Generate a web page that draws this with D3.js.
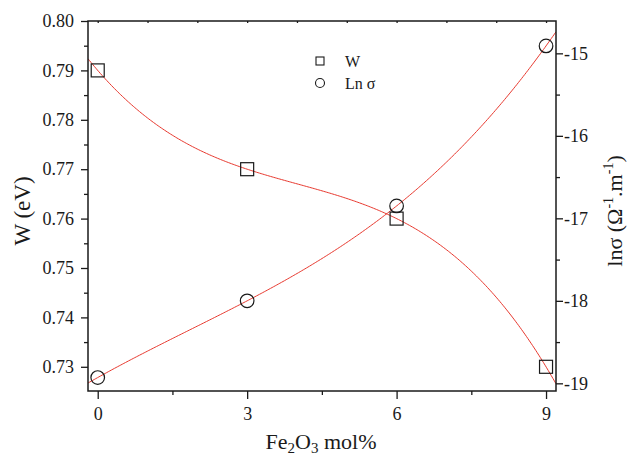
<!DOCTYPE html>
<html>
<head>
<meta charset="utf-8">
<script src="https://cdn.jsdelivr.net/npm/d3@7"></script>
<style>
  html, body { margin: 0; padding: 0; background: #fff; }
  svg, svg text { font-family: 'Liberation Serif', 'Times New Roman', Times, serif !important; }
</style>
</head>
<body>
<svg id="chart" width="627" height="456"></svg>
<script>
// Fe2O3 content (mol%)
const composition = [0, 3, 6, 9];
// Activation energy W (eV)
const activationEnergy = [0.79, 0.77, 0.76, 0.73];
// ln of conductivity, ln σ (Ω^-1.m^-1)
const lnSigma = [-18.93, -18.0, -16.85, -14.91];

// Tick values
const xMajorTicks = [0, 3, 6, 9];
const xMinorTicks = [1.5, 4.5, 7.5];
const xTopTicks = [0, 1, 2, 3, 4, 5, 6, 7, 8, 9];
const wMajorTicks = [0.73, 0.74, 0.75, 0.76, 0.77, 0.78, 0.79, 0.80];
const wMinorTicks = [0.735, 0.745, 0.755, 0.765, 0.775, 0.785, 0.795];
const lnMajorTicks = [-19, -18, -17, -16, -15];
const lnMinorTicks = [-18.5, -17.5, -16.5, -15.5];

const svg = d3.select("#chart");
const m = { left: 88, right: 556, top: 21, bottom: 391 };
const ink = "#1a1a1a";
const fitColor = "#e8392f";
const serif = "'Liberation Serif', 'Times New Roman', Times, serif";

const x = d3.scaleLinear().domain([-0.195, 9.2]).range([m.left, m.right]);
const yW = d3.scaleLinear().domain([0.7251, 0.80]).range([m.bottom, m.top]);
const yLn = d3.scaleLinear().domain([-19.093, -14.608]).range([m.bottom, m.top]);

// Third-order polynomial through the four measured points (Lagrange form)
function polyFit(xs, ys) {
  return t => {
    let s = 0;
    for (let i = 0; i < xs.length; i++) {
      let p = ys[i];
      for (let j = 0; j < xs.length; j++) {
        if (j !== i) p *= (t - xs[j]) / (xs[i] - xs[j]);
      }
      s += p;
    }
    return s;
  };
}

svg.append("defs").append("clipPath").attr("id", "plotClip")
  .append("rect")
  .attr("x", m.left).attr("y", m.top)
  .attr("width", m.right - m.left).attr("height", m.bottom - m.top);

const samples = d3.range(0, 301).map(i => x.domain()[0] + (x.domain()[1] - x.domain()[0]) * i / 300);
const fitW = polyFit(composition, activationEnergy);
const fitLn = polyFit(composition, lnSigma);

const plot = svg.append("g").attr("clip-path", "url(#plotClip)");
plot.append("path")
  .datum(samples)
  .attr("fill", "none").attr("stroke", fitColor).attr("stroke-width", 1)
  .attr("d", d3.line().x(d => x(d)).y(d => yW(fitW(d))));
plot.append("path")
  .datum(samples)
  .attr("fill", "none").attr("stroke", fitColor).attr("stroke-width", 1)
  .attr("d", d3.line().x(d => x(d)).y(d => yLn(fitLn(d))));

// Axes
function styleAxis(g, showText) {
  g.attr("font-family", null);
  g.select(".domain").remove();
  g.selectAll(".tick line").attr("stroke", ink).attr("stroke-width", 1.3);
  if (!showText) g.selectAll(".tick text").remove();
  else g.selectAll(".tick text").attr("fill", ink)
    .style("font-size", "18px").style("font-family", serif);
}

svg.append("g").attr("transform", `translate(0,${m.bottom})`)
  .call(d3.axisBottom(x).tickValues(xMajorTicks).tickSize(8).tickPadding(8).tickFormat(d3.format("d")))
  .call(g => styleAxis(g, true));
svg.append("g").attr("transform", `translate(0,${m.bottom})`)
  .call(d3.axisBottom(x).tickValues(xMinorTicks).tickSize(4))
  .call(g => styleAxis(g, false));
svg.append("g").attr("transform", `translate(0,${m.top})`)
  .call(d3.axisBottom(x).tickValues(xTopTicks).tickSize(2))
  .call(g => styleAxis(g, false));

svg.append("g").attr("transform", `translate(${m.left},0)`)
  .call(d3.axisLeft(yW).tickValues(wMajorTicks).tickSize(7).tickPadding(7).tickFormat(d3.format(".2f")))
  .call(g => styleAxis(g, true));
svg.append("g").attr("transform", `translate(${m.left},0)`)
  .call(d3.axisLeft(yW).tickValues(wMinorTicks).tickSize(4))
  .call(g => styleAxis(g, false));

svg.append("g").attr("transform", `translate(${m.right},0)`)
  .call(d3.axisRight(yLn).tickValues(lnMajorTicks).tickSize(7).tickPadding(1).tickFormat(d => String(d).replace("−", "-")))
  .call(g => styleAxis(g, true));
svg.append("g").attr("transform", `translate(${m.right},0)`)
  .call(d3.axisRight(yLn).tickValues(lnMinorTicks).tickSize(4))
  .call(g => styleAxis(g, false));

// Frame
svg.append("rect")
  .attr("x", m.left).attr("y", m.top)
  .attr("width", m.right - m.left).attr("height", m.bottom - m.top)
  .attr("fill", "none").attr("stroke", ink).attr("stroke-width", 1.5);

// Data markers
const pts = composition.map((c, i) => ({ c, w: activationEnergy[i], ln: lnSigma[i] }));
const sq = 13;
svg.append("g").selectAll("rect").data(pts).join("rect")
  .attr("x", d => x(d.c) - sq / 2).attr("y", d => yW(d.w) - sq / 2)
  .attr("width", sq).attr("height", sq)
  .attr("fill", "none").attr("stroke", ink).attr("stroke-width", 1.2);
svg.append("g").selectAll("circle").data(pts).join("circle")
  .attr("cx", d => x(d.c)).attr("cy", d => yLn(d.ln)).attr("r", 6.8)
  .attr("fill", "none").attr("stroke", ink).attr("stroke-width", 1.2);

// Legend
const lg = svg.append("g").attr("fill", ink).style("font-size", "16px").style("font-family", serif);
lg.append("rect").attr("x", 316).attr("y", 57).attr("width", 8).attr("height", 8)
  .attr("fill", "none").attr("stroke", ink).attr("stroke-width", 1.1);
lg.append("circle").attr("cx", 320).attr("cy", 83).attr("r", 4.5)
  .attr("fill", "none").attr("stroke", ink).attr("stroke-width", 1.1);
lg.append("text").attr("x", 345).attr("y", 67).text("W");
lg.append("text").attr("x", 345).attr("y", 89).text("Ln σ");

// Axis titles
const xt = svg.append("text").attr("x", 321).attr("y", 449)
  .attr("text-anchor", "middle").style("font-size", "22px").style("font-family", serif).attr("fill", ink);
xt.append("tspan").text("Fe");
xt.append("tspan").style("font-size", "15px").attr("dy", 4).text("2");
xt.append("tspan").attr("dy", -4).text("O");
xt.append("tspan").style("font-size", "15px").attr("dy", 4).text("3");
xt.append("tspan").attr("dy", -4).text(" mol%");

svg.append("text")
  .attr("transform", "translate(30,211) rotate(-90)")
  .attr("text-anchor", "middle").style("font-size", "23px").style("font-family", serif).attr("fill", ink)
  .text("W (eV)");

const yt = svg.append("text")
  .attr("transform", "translate(622,211) rotate(-90)")
  .attr("text-anchor", "middle").style("font-size", "22px").style("font-family", serif).attr("fill", ink);
yt.append("tspan").text("lnσ (Ω");
yt.append("tspan").style("font-size", "14px").attr("dy", -9).text("-1");
yt.append("tspan").attr("dy", 9).text(".m");
yt.append("tspan").style("font-size", "14px").attr("dy", -9).text("-1");
yt.append("tspan").attr("dy", 9).text(")");
</script>
</body>
</html>
